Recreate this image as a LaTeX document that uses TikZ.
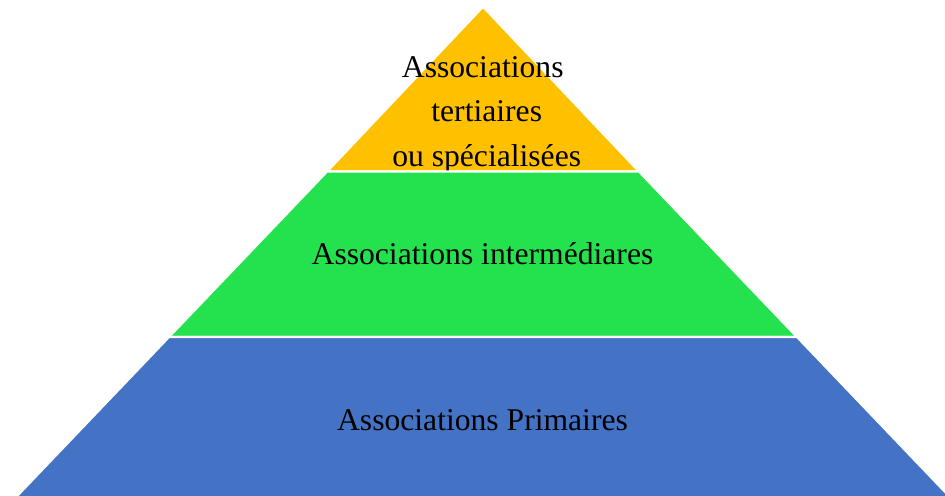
\documentclass[tikz,border=0pt]{standalone}
\usepackage{fontspec}
\setmainfont{Liberation Serif}
\usepackage{xcolor}
\definecolor{tertiary}{RGB}{255,192,0}
\definecolor{middle}{RGB}{36,226,78}
\definecolor{primary}{RGB}{68,114,196}
\usetikzlibrary{positioning}

\begin{document}
\begin{tikzpicture}[x=0.02cm, y=-0.02cm, every node/.style={font=\fontsize{18}{25.5}\selectfont}]
\tikzset{tier/.style={draw=white, line width=1.4pt}}

\clip (0,0) rectangle (945,495);

% Tier 3
  \draw[tier, fill=tertiary] (483,6.5) -- (639.1,171.5) -- (326.9,171.5) -- cycle;
  \node[anchor=base, align=center] (tertiaires) at (486.7,166.7) {Associations\hspace*{0.25em}\\tertiaires\\ou spécialisées};

% Tier 2
  \draw[tier, fill=middle] (326.9,171.5) -- (639.1,171.5) -- (797.2,337) -- (168.8,337) -- cycle;
  \node[anchor=base] (intermediaires) at (482.5,264) {Associations intermédiares};

% Tier 1
  \draw[tier, fill=primary] (168.8,337) -- (797.2,337) -- (952.9,500) -- (13.1,500) -- cycle;
  \node[anchor=base] (primaires) at (482.5,430) {Associations Primaires};

\end{tikzpicture}
\end{document}
